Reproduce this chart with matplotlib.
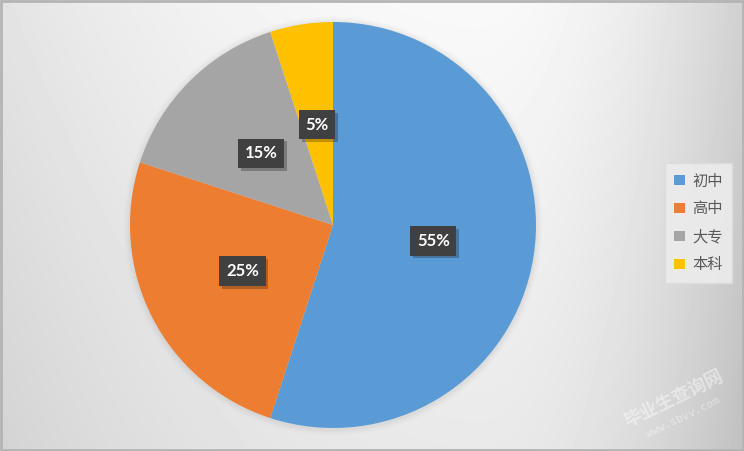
import matplotlib.pyplot as plt
import matplotlib.patheffects as pe
import numpy as np
from matplotlib.patches import Patch, Rectangle, Circle

# data
categories = ["初中", "高中", "大专", "本科"]
shares = [55, 25, 15, 5]
colors = ["#5B9BD5", "#ED7D31", "#A5A5A5", "#FFC000"]

W, H = 744, 451
fig = plt.figure(figsize=(W / 100, H / 100), dpi=100)

# background gradient (light at top, grey towards the edges)
bg = fig.add_axes([0, 0, 1, 1])
yy, xx = np.mgrid[0:H, 0:W].astype(float)
cx = 480
dx = np.where(xx < cx, (xx - cx) / 650.0, (xx - cx) / 260.0)
val = (249 - 40 * dx ** 2 - 16 * (yy / H)) / 255.0
bg.imshow(val, cmap="gray", vmin=0, vmax=1, extent=[0, W, H, 0], aspect="auto")
bg.add_patch(Rectangle((0.5, 0.5), W - 1.5, H - 1.5, fill=False, ec="#b4b4b4", lw=2))
bg.set_xlim(0, W)
bg.set_ylim(H, 0)
bg.axis("off")

# pie
R = 203
half = 215
pcx, pcy = 333, 225
ax = fig.add_axes([(pcx - half) / W, (H - pcy - half) / H, 2 * half / W, 2 * half / H])

wedges, texts = ax.pie(shares, colors=colors, startangle=90, counterclock=False,
                       radius=1.0, wedgeprops=dict(linewidth=0))

# soft shadow around the pie
for i, a in enumerate([0.05, 0.04, 0.03, 0.02]):
    ax.add_patch(Circle((0.0, -0.005), 1.0 + 0.008 * (i + 1), color="#808080",
                        alpha=a, lw=0, zorder=0))

ax.set_xlim(-half / R, half / R)
ax.set_ylim(-half / R, half / R)
ax.axis("off")

for w, s in zip(wedges, shares):
    ang = np.deg2rad((w.theta1 + w.theta2) / 2)
    x, y = 0.5 * np.cos(ang), 0.5 * np.sin(ang)
    t = ax.text(x, y, f"{s}%", ha="center", va="center", fontsize=12,
                fontweight="bold", family="Lato", color="white",
                bbox=dict(boxstyle="square,pad=0.4", fc="#404040", ec="none", lw=0))
    t.get_bbox_patch().set_path_effects([
        pe.SimplePatchShadow(offset=(2, -2), shadow_rgbFace="black", alpha=0.25),
        pe.Normal()])

# legend
handles = [Patch(facecolor=c, edgecolor="none") for c in colors]
leg = fig.legend(handles, categories, loc="center left",
                 bbox_to_anchor=(665 / W, 1 - 223 / H),
                 prop={"family": ["Noto Sans CJK SC", "DejaVu Sans"], "size": 11},
                 frameon=True, fancybox=False, handlelength=0.7, handleheight=0.7,
                 handletextpad=0.5, labelspacing=0.72, borderpad=0.6, borderaxespad=0)
leg.get_frame().set_facecolor("#ececec")
leg.get_frame().set_edgecolor("#dcdcdc")
leg.get_frame().set_alpha(0.9)
for t in leg.get_texts():
    t.set_color("#595959")

# watermark
fig.text(673 / W, 1 - 399 / H, "毕业生查询网", rotation=26, ha="center", va="center",
         fontsize=13, fontweight="bold", color="white", alpha=0.45,
         family=["Noto Sans CJK SC", "DejaVu Sans"])
fig.text(683 / W, 1 - 418 / H, "www.sbvv.com", rotation=26, ha="center", va="center",
         fontsize=8, color="white", alpha=0.45, family="DejaVu Sans Mono")

fig.savefig("out.png", dpi=100)
